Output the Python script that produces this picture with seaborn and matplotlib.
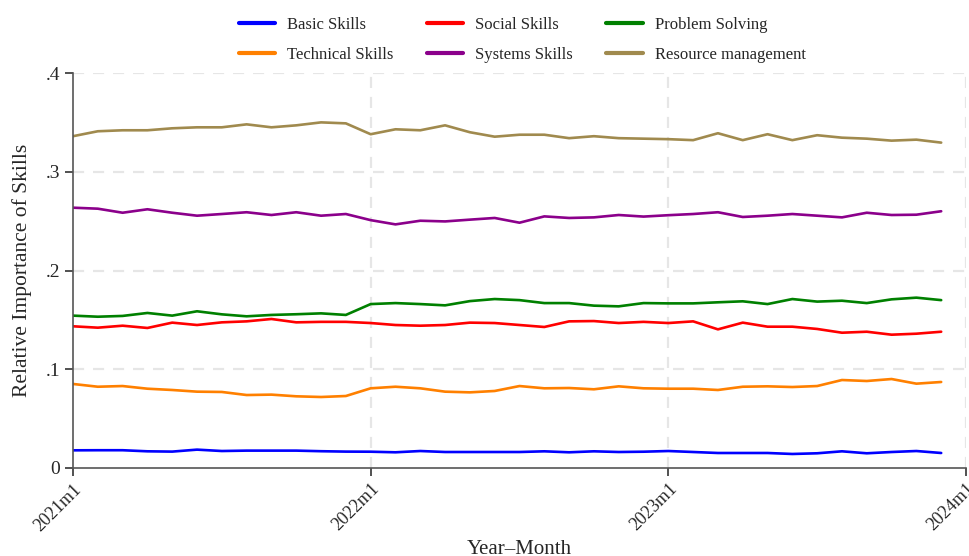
import numpy as np
import pandas as pd
import matplotlib
matplotlib.use("Agg")
import matplotlib.pyplot as plt
import seaborn as sns

# Monthly observations, 2021m1 .. 2023m12
months = pd.period_range("2021-01", "2023-12", freq="M")

basic_skills = [0.0179, 0.0180, 0.0180, 0.0169, 0.0166, 0.0186, 0.0172, 0.0176, 0.0176, 0.0176, 0.0170, 0.0166,
                0.0165, 0.0159, 0.0172, 0.0162, 0.0162, 0.0162, 0.0162, 0.0169, 0.0159, 0.0169, 0.0162, 0.0165,
                0.0172, 0.0162, 0.0152, 0.0152, 0.0152, 0.0142, 0.0149, 0.0169, 0.0149, 0.0162, 0.0172, 0.0152]
social_skills = [0.1435, 0.1421, 0.1441, 0.1418, 0.1472, 0.1448, 0.1475, 0.1485, 0.1509, 0.1475, 0.1480, 0.1480,
                 0.1468, 0.1448, 0.1441, 0.1448, 0.1472, 0.1468, 0.1448, 0.1428, 0.1485, 0.1488, 0.1468, 0.1480,
                 0.1468, 0.1485, 0.1404, 0.1472, 0.1431, 0.1431, 0.1408, 0.1370, 0.1380, 0.1350, 0.1360, 0.1380]
problem_solving = [0.1543, 0.1532, 0.1540, 0.1570, 0.1543, 0.1587, 0.1556, 0.1536, 0.1550, 0.1557, 0.1566, 0.1550,
                   0.1660, 0.1670, 0.1660, 0.1647, 0.1690, 0.1711, 0.1700, 0.1670, 0.1670, 0.1644, 0.1637, 0.1670,
                   0.1667, 0.1667, 0.1678, 0.1688, 0.1660, 0.1711, 0.1685, 0.1694, 0.1670, 0.1708, 0.1725, 0.1700]
technical_skills = [0.0851, 0.0823, 0.0830, 0.0803, 0.0790, 0.0773, 0.0770, 0.0739, 0.0743, 0.0726, 0.0719, 0.0729,
                    0.0807, 0.0823, 0.0807, 0.0773, 0.0766, 0.0780, 0.0830, 0.0807, 0.0810, 0.0797, 0.0827, 0.0807,
                    0.0803, 0.0803, 0.0790, 0.0823, 0.0827, 0.0820, 0.0830, 0.0891, 0.0881, 0.0901, 0.0854, 0.0871]
systems_skills = [0.2636, 0.2626, 0.2585, 0.2620, 0.2585, 0.2555, 0.2572, 0.2590, 0.2562, 0.2590, 0.2555, 0.2572,
                  0.2510, 0.2467, 0.2504, 0.2497, 0.2515, 0.2532, 0.2484, 0.2548, 0.2532, 0.2538, 0.2562, 0.2546,
                  0.2560, 0.2572, 0.2590, 0.2542, 0.2555, 0.2572, 0.2555, 0.2538, 0.2585, 0.2562, 0.2565, 0.2600]
resource_management = [0.3360, 0.3410, 0.3420, 0.3420, 0.3440, 0.3450, 0.3450, 0.3480, 0.3450, 0.3470, 0.3500, 0.3490,
                       0.3380, 0.3430, 0.3420, 0.3470, 0.3400, 0.3355, 0.3375, 0.3375, 0.3340, 0.3360, 0.3340, 0.3335,
                       0.3330, 0.3320, 0.3390, 0.3320, 0.3380, 0.3320, 0.3370, 0.3345, 0.3335, 0.3315, 0.3325, 0.3295]

skill_names = ["Basic Skills", "Social Skills", "Problem Solving",
               "Technical Skills", "Systems Skills", "Resource management"]
skill_values = [basic_skills, social_skills, problem_solving,
                technical_skills, systems_skills, resource_management]
skill_colors = ["#0000FF", "#FF0000", "#008000", "#FF8000", "#8B008B", "#A08A4E"]

tick_positions = [0, 12, 24, 36]
tick_labels = ["2021m1", "2022m1", "2023m1", "2024m1"]
ytick_values = [0, 0.1, 0.2, 0.3, 0.4]
ytick_labels = ["0", ".1", ".2", ".3", ".4"]

month_index = np.arange(len(months))
df = pd.concat(
    [pd.DataFrame({"t": month_index, "value": vals, "skill": name})
     for name, vals in zip(skill_names, skill_values)],
    ignore_index=True,
)

sns.set_theme(style="white")
plt.rcParams["font.family"] = ["Liberation Serif", "DejaVu Serif"]

fig = plt.figure(figsize=(9.70, 5.56), dpi=100)
ax = fig.add_axes([73 / 970, 1 - 468 / 556, (966 - 73) / 970, (468 - 73) / 556])

sns.lineplot(data=df, x="t", y="value", hue="skill", hue_order=skill_names,
             palette=dict(zip(skill_names, skill_colors)), linewidth=1.9, ax=ax,
             legend=True)

ax.set_xlim(0, 36)
ax.set_ylim(0, 0.4)
ax.set_xticks(tick_positions)
ax.set_xticklabels(tick_labels, rotation=45, ha="right", rotation_mode="anchor", fontsize=13)
ax.set_yticks(ytick_values)
ax.set_yticklabels(ytick_labels, fontsize=14)
ax.tick_params(axis="both", direction="out", length=6, width=1.2, color="#333333",
               bottom=True, left=True, pad=3)

# dashed reference grid
for yv in ytick_values[1:]:
    ax.axhline(yv, color="#E6E6E6", linewidth=1.6, linestyle=(0, (5, 4)), zorder=0)
for xv in tick_positions[1:]:
    ax.axvline(xv, color="#E6E6E6", linewidth=1.6, linestyle=(0, (5, 4)), zorder=0)

for side in ["top", "right"]:
    ax.spines[side].set_visible(False)
for side in ["left", "bottom"]:
    ax.spines[side].set_color("#555555")
    ax.spines[side].set_linewidth(1.2)

ax.set_xlabel("Year–Month", fontsize=15, labelpad=4)
ax.set_ylabel("Relative Importance of Skills", fontsize=15.5, labelpad=10)

# legend filled row by row: three entries per row
handles, labels = ax.get_legend_handles_labels()
order = [0, 3, 1, 4, 2, 5]
ax.legend([handles[i] for i in order], [labels[i] for i in order],
          ncol=3, loc="lower center", bbox_to_anchor=(0.503, 0.987),
          frameon=False, fontsize=12, handlelength=2.2, columnspacing=2.0,
          handletextpad=0.7, labelspacing=0.85)
for line in ax.get_legend().get_lines():
    line.set_linewidth(3.0)

fig.savefig("out.png", dpi=100)
